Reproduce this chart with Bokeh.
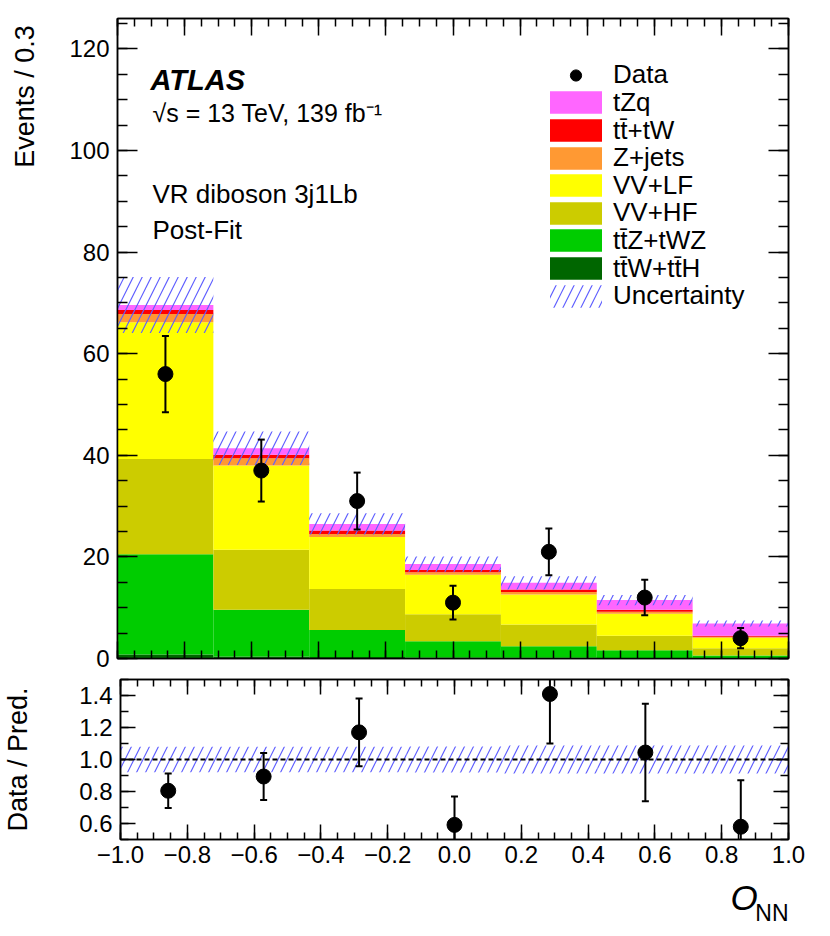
import math
import numpy as np
from bokeh.plotting import figure
from bokeh.layouts import column, row
from bokeh.core.properties import value
from bokeh.models import (FixedTicker, LinearAxis, Label, Legend, LegendItem,
                          Span, CustomJSTickFormatter, Range1d,
                          CustomLabelingPolicy)
from bokeh.embed import file_html
from bokeh.resources import INLINE

# ---------------- data ----------------
bin_edges = [-1.0, -5 / 7, -3 / 7, -1 / 7, 1 / 7, 3 / 7, 5 / 7, 1.0]
data_obs = [56, 37, 31, 11, 21, 12, 4]
data_err = [7.5, 6.1, 5.6, 3.3, 4.6, 3.5, 2.0]

bkg_ttW_ttH = [0.8, 0.4, 0.3, 0.2, 0.15, 0.1, 0.05]
bkg_ttZ_tWZ = [19.7, 9.2, 5.3, 3.2, 2.25, 1.5, 0.55]
bkg_VV_HF = [18.8, 11.8, 8.1, 5.3, 4.3, 2.9, 1.4]
bkg_VV_LF = [26.9, 16.6, 10.2, 7.8, 5.9, 4.3, 2.1]
bkg_Zjets = [1.6, 1.4, 0.6, 0.5, 0.5, 0.4, 0.2]
bkg_tt_tW = [0.8, 0.7, 0.7, 0.4, 0.5, 0.4, 0.2]
bkg_tZq = [1.0, 1.3, 1.3, 1.2, 1.3, 1.9, 2.4]
unc_total = [5.5, 3.3, 2.1, 1.5, 1.3, 1.0, 0.6]

x_ticks = [-1.0, -0.8, -0.6, -0.4, -0.2, 0.0, 0.2, 0.4, 0.6, 0.8, 1.0]
y_ticks = [0, 20, 40, 60, 80, 100, 120]
ratio_ticks = [0.6, 0.8, 1.0, 1.2, 1.4]

stack = [
    ("t\u0074\u0304W+t\u0074\u0304H", bkg_ttW_ttH, "#006600"),
    ("t\u0074\u0304Z+tWZ", bkg_ttZ_tWZ, "#00cc00"),
    ("VV+HF", bkg_VV_HF, "#cccc00"),
    ("VV+LF", bkg_VV_LF, "#ffff00"),
    ("Z+jets", bkg_Zjets, "#ff9933"),
    ("t\u0074\u0304+tW", bkg_tt_tW, "#ff0000"),
    ("tZq", bkg_tZq, "#ff66ff"),
]

FONT = "Liberation Sans"
HATCH = "#6060ff"

left = np.array(bin_edges[:-1])
right = np.array(bin_edges[1:])
centers = (left + right) / 2
obs = np.array(data_obs, dtype=float)
err = np.array(data_err, dtype=float)

x_minor = [round(-1.0 + 0.05 * i, 4) for i in range(41)]
y_minor = [5 * i for i in range(26)]
r_minor = [round(0.5 + 0.1 * i, 4) for i in range(11)]


def style_axis(ax, major_in, minor_in, labels=True, size="24px"):
    ax.major_tick_in = major_in
    ax.major_tick_out = 0
    ax.minor_tick_in = minor_in
    ax.minor_tick_out = 0
    ax.axis_line_color = "black"
    ax.axis_line_width = 1.5
    ax.major_tick_line_color = "black"
    ax.minor_tick_line_color = "black"
    ax.major_tick_line_width = 1.5
    ax.minor_tick_line_width = 1.5
    ax.major_label_text_font = FONT
    ax.major_label_text_color = "black"
    if labels:
        ax.major_label_text_font_size = size
    else:
        ax.major_label_text_font_size = "0px"
        ax.major_label_text_line_height = 0
        ax.major_label_policy = CustomLabelingPolicy(
            code="for (const i of indices) indices.unset(i); return indices;")
        ax.major_label_standoff = 0
        ax.axis_label_standoff = 0


def fmt():
    return CustomJSTickFormatter(
        code="return (tick < -1e-9 ? '\u2212' : '') + Math.abs(tick).toFixed(1);")


def blank_strip(w, h, xr_, yr_, **kw):
    f = figure(width=w, height=h, x_range=xr_, y_range=yr_,
               x_axis_type=None, y_axis_type=None,
               output_backend="svg", toolbar_location=None,
               min_border_top=0, min_border_bottom=0, **kw)
    f.outline_line_color = None
    f.xgrid.visible = False
    f.ygrid.visible = False
    f.background_fill_color = "white"
    f.border_fill_color = "white"
    return f


# ---------------- main panel ----------------
W = 828
FL, FR = 117, 788          # frame left / right (pixels)
W0 = 50                    # width of the strip holding the y title
H1 = 674
xr = Range1d(-1.0, 1.0)
p1 = figure(width=W - W0, height=H1, x_range=xr, y_range=Range1d(0, 126),
            output_backend="svg", toolbar_location=None,
            min_border_left=FL - W0, min_border_right=W - FR,
            min_border_top=18, min_border_bottom=16)
p1.xgrid.visible = False
p1.ygrid.visible = False
p1.outline_line_color = "black"
p1.outline_line_width = 1.5
p1.background_fill_color = "white"
p1.border_fill_color = "white"

p1.xaxis.ticker = FixedTicker(ticks=x_ticks, minor_ticks=x_minor)
p1.yaxis.ticker = FixedTicker(ticks=y_ticks, minor_ticks=y_minor)
style_axis(p1.xaxis[0], 17, 8, labels=False)
style_axis(p1.yaxis[0], 20, 10, labels=True)
p1.yaxis[0].major_label_standoff = 8
ax_top = LinearAxis(ticker=FixedTicker(ticks=x_ticks, minor_ticks=x_minor))
style_axis(ax_top, 17, 8, labels=False)
p1.add_layout(ax_top, "above")
ax_right = LinearAxis(ticker=FixedTicker(ticks=y_ticks, minor_ticks=y_minor))
style_axis(ax_right, 20, 10, labels=False)
p1.add_layout(ax_right, "right")

bottom = np.zeros(len(data_obs))
stack_r = {}
for name, vals, col in stack:
    top = bottom + np.array(vals)
    r = p1.quad(left=left, right=right, bottom=bottom, top=top,
                fill_color=col, line_color=None)
    stack_r[name] = r
    bottom = top
total = bottom.copy()
unc = np.array(unc_total)

r_unc = p1.quad(left=left, right=right, bottom=total - unc, top=total + unc,
                fill_alpha=0, line_color=None, hatch_pattern="/",
                hatch_color=HATCH, hatch_scale=18, hatch_weight=1.2)

p1.segment(x0=centers, y0=obs - err, x1=centers, y1=obs + err,
           line_color="black", line_width=2)
p1.scatter(x=np.concatenate([centers, centers]),
           y=np.concatenate([obs - err, obs + err]),
           marker="dash", size=7, line_color="black", line_width=2)
r_data = p1.scatter(x=centers, y=obs, size=15, marker="circle",
                    fill_color="black", line_color="black")

# legend: one entry per Legend so that the row pitch matches the reference
items = [LegendItem(label="Data", renderers=[r_data])]
for name, vals, col in reversed(stack):
    items.append(LegendItem(label=name, renderers=[stack_r[name]]))
items.append(LegendItem(label="Uncertainty", renderers=[r_unc]))
LEG_TOP, LEG_PITCH = 73.3, 27.6   # centre of first row (px from top), row pitch
for i, it in enumerate(items):
    yc = LEG_TOP + LEG_PITCH * i
    lg = Legend(items=[it], location=(426, 658 - (yc + 17)),
                orientation="vertical",
                glyph_width=65, glyph_height=28, label_height=26,
                label_standoff=5, spacing=0, padding=0, margin=0,
                border_line_alpha=0, background_fill_alpha=0,
                label_text_font=FONT, label_text_font_size="26px",
                label_text_color="black")
    p1.add_layout(lg)


def add_text(p, x, y, text, size, style="normal", align="left"):
    p.add_layout(Label(x=x, y=y, x_units="screen", y_units="screen", text=text,
                       text_font=FONT, text_font_size=size, text_font_style=style,
                       text_align=align, text_baseline="middle",
                       text_color="black"))


add_text(p1, 33, 579, "ATLAS", "29px", style="bold italic")
add_text(p1, 35, 546, "\u221as = 13 TeV, 139 fb\u207b\u00b9", "25px")
add_text(p1, 35, 465, "VR diboson 3j1Lb", "26px")
add_text(p1, 35, 429, "Post-Fit", "26px")

# y title strip left of the main panel (pixel coordinates)
p0 = blank_strip(W0, H1, Range1d(0, W0), Range1d(0, H1),
                 min_border_left=0, min_border_right=0)
p0.text(x=[24], y=[H1 - 7], text=["Events / 0.3"], text_font=value(FONT),
        text_font_size="27px", angle=math.pi / 2, text_align="right",
        text_baseline="middle", text_color="black")

# ---------------- ratio panel ----------------
p2 = figure(width=W, height=201, x_range=xr, y_range=Range1d(0.5, 1.5),
            output_backend="svg", toolbar_location=None,
            min_border_left=FL, min_border_right=W - FR,
            min_border_top=5, min_border_bottom=36)
p2.xgrid.visible = False
p2.ygrid.visible = False
p2.outline_line_color = "black"
p2.outline_line_width = 1.5
p2.background_fill_color = "white"
p2.border_fill_color = "white"

p2.xaxis.ticker = FixedTicker(ticks=x_ticks, minor_ticks=x_minor)
p2.xaxis.formatter = fmt()
p2.yaxis.ticker = FixedTicker(ticks=ratio_ticks, minor_ticks=r_minor)
p2.yaxis.formatter = fmt()
style_axis(p2.xaxis[0], 15, 7, labels=True)
p2.xaxis[0].major_label_standoff = 6
style_axis(p2.yaxis[0], 15, 8, labels=True)
p2.yaxis[0].major_label_standoff = 8
ax_top2 = LinearAxis(ticker=FixedTicker(ticks=x_ticks, minor_ticks=x_minor))
style_axis(ax_top2, 15, 7, labels=False)
p2.add_layout(ax_top2, "above")
ax_right2 = LinearAxis(ticker=FixedTicker(ticks=ratio_ticks, minor_ticks=r_minor))
style_axis(ax_right2, 15, 8, labels=False)
p2.add_layout(ax_right2, "right")

rel = unc / total
p2.quad(left=left, right=right, bottom=1 - rel, top=1 + rel,
        fill_alpha=0, line_color=None, hatch_pattern="/",
        hatch_color=HATCH, hatch_scale=18, hatch_weight=1.2)
p2.add_layout(Span(location=1.0, dimension="width", line_color="black",
                   line_width=2, line_dash="5 3"))

ratio = obs / total
ratio_err = err / total
p2.segment(x0=centers, y0=ratio - ratio_err, x1=centers, y1=ratio + ratio_err,
           line_color="black", line_width=2)
p2.scatter(x=np.concatenate([centers, centers]),
           y=np.concatenate([ratio - ratio_err, ratio + ratio_err]),
           marker="dash", size=7, line_color="black", line_width=2)
p2.scatter(x=centers, y=ratio, size=15, marker="circle",
           fill_color="black", line_color="black")

p2.yaxis[0].axis_label = "Data / Pred."
p2.yaxis[0].axis_label_text_font = FONT
p2.yaxis[0].axis_label_text_font_size = "27px"
p2.yaxis[0].axis_label_text_font_style = "normal"
p2.yaxis[0].axis_label_text_color = "black"
p2.yaxis[0].axis_label_standoff = 43

# ---------------- x-axis title strip ----------------
H3 = 56
p3 = blank_strip(W, H3, xr, Range1d(0, H3),
                 min_border_left=FL, min_border_right=W - FR)
x_of = lambda px: -1.0 + 2.0 * (px - FL) / (FR - FL)
p3.text(x=[x_of(757)], y=[34], text=["O"], text_font=value(FONT),
        text_font_size="35px", text_font_style="italic", text_align="right",
        text_baseline="middle", text_color="black")
p3.text(x=[1.0], y=[19], text=["NN"], text_font=value(FONT),
        text_font_size="23px", text_align="right",
        text_baseline="middle", text_color="black")

layout = column(row(p0, p1), p2, p3)
open("out.html", "w").write(file_html(layout, INLINE))
